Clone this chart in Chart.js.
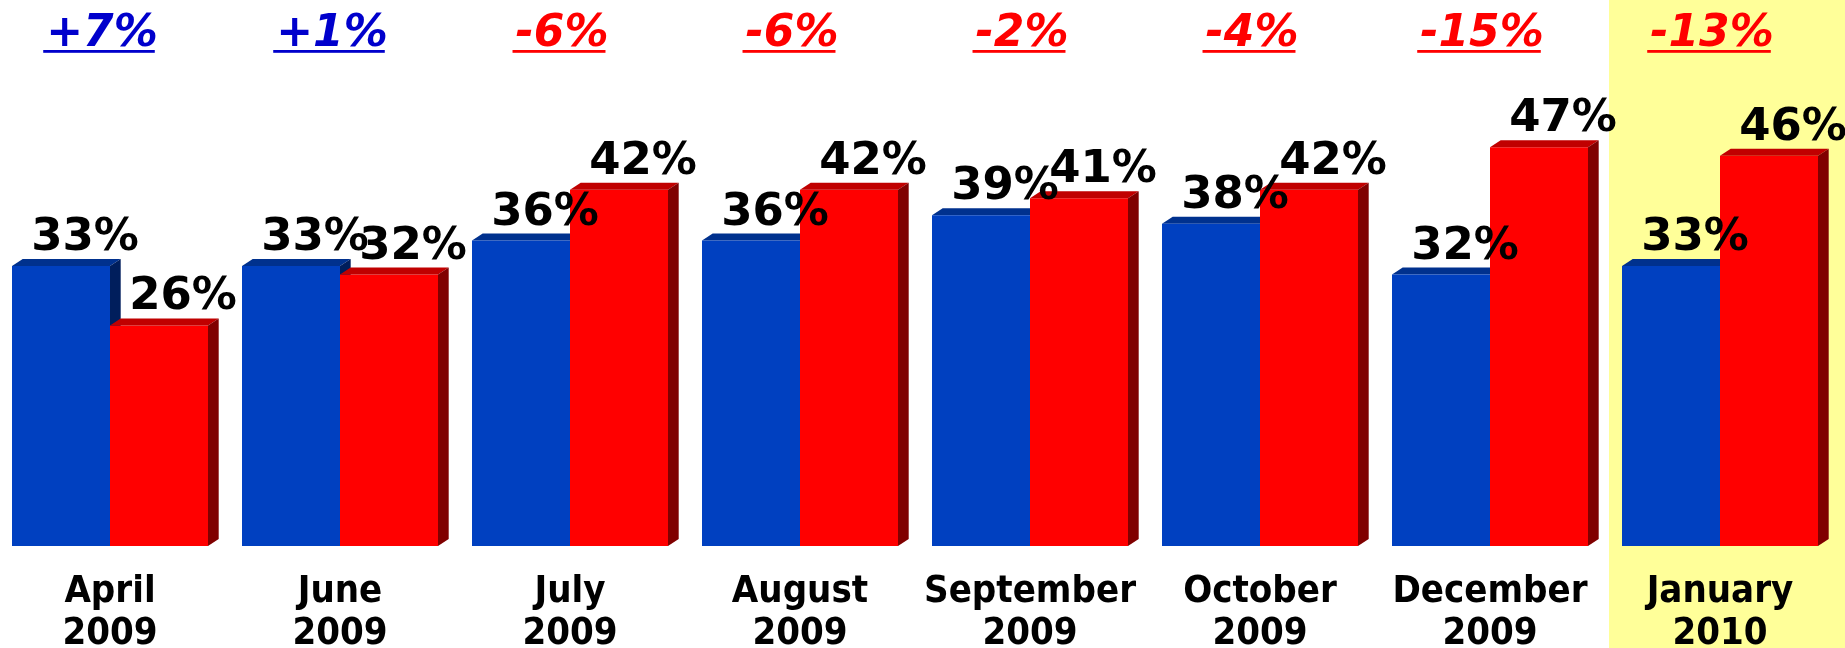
<!DOCTYPE html>
<html><head><meta charset="utf-8">
<script src="https://cdn.jsdelivr.net/npm/chart.js@4/dist/chart.umd.min.js"></script>
<style>
html,body{margin:0;padding:0;background:#fff;overflow:hidden;width:1845px;height:648px}
#wrap{position:absolute;left:-5px;top:0;width:1850px;height:648px}
</style></head><body>
<div id="wrap"><canvas id="c" width="1850" height="648"></canvas></div>
<script>
const categories = [["April","2009"],["June","2009"],["July","2009"],["August","2009"],["September","2009"],["October","2009"],["December","2009"],["January","2010"]];
const blueValues = [33,33,36,36,39,38,32,33];
const redValues = [26,32,42,42,41,42,47,46];
const changeLabels = ["+7%","+1%","-6%","-6%","-2%","-4%","-15%","-13%"];
const highlightIndex = 7;

const faceColors = [
  {top:'#00318E', side:'#001E5C'},
  {top:'#C00000', side:'#800000'}
];
const DX = 10.7, DY = 7;

function drawFaces(chart, di){
  const ctx = chart.ctx, meta = chart.getDatasetMeta(di), c = faceColors[di];
  ctx.save();
  meta.data.forEach(b=>{
    const p = b.getProps(['x','y','base','width'], true);
    const l = p.x - p.width/2, r = p.x + p.width/2;
    ctx.fillStyle = c.top;
    ctx.beginPath();
    ctx.moveTo(l,p.y); ctx.lineTo(l+DX,p.y-DY); ctx.lineTo(r+DX,p.y-DY); ctx.lineTo(r,p.y);
    ctx.closePath(); ctx.fill();
    ctx.fillStyle = c.side;
    ctx.beginPath();
    ctx.moveTo(r,p.y); ctx.lineTo(r+DX,p.y-DY); ctx.lineTo(r+DX,p.base-DY); ctx.lineTo(r,p.base);
    ctx.closePath(); ctx.fill();
  });
  ctx.restore();
}

const backgroundPlugin = {
  id:'bg',
  beforeDraw(chart){
    const ctx = chart.ctx, xs = chart.scales.x;
    ctx.save();
    ctx.fillStyle = '#FFFFFF';
    ctx.fillRect(0,0,chart.width,chart.height);
    const left = (xs.getPixelForValue(highlightIndex-1)+xs.getPixelForValue(highlightIndex))/2 + 4;
    ctx.fillStyle = '#FFFF99';
    ctx.fillRect(left,0,chart.width-left,chart.height);
    ctx.restore();
  }
};

const bar3dPlugin = {
  id:'bar3d',
  beforeDatasetsDraw(chart){ drawFaces(chart, 0); },
  afterDatasetDraw(chart, args){ if (args.index === 1) drawFaces(chart, 1); }
};

const labelPlugin = {
  id:'vlabels',
  afterDatasetsDraw(chart){
    const ctx = chart.ctx;
    ctx.save();
    ctx.font = 'bold 45px "DejaVu Sans"';
    ctx.fillStyle = '#000';
    ctx.textAlign = 'center';
    ctx.textBaseline = 'alphabetic';
    [0,1].forEach(di=>{
      const meta = chart.getDatasetMeta(di);
      meta.data.forEach((b,i)=>{
        const v = chart.data.datasets[di].data[i];
        ctx.fillText(v+'%', b.x+24, b.y-16);
      });
    });
    const xs = chart.scales.x;
    ctx.font = 'italic bold 44px "DejaVu Sans"';
    changeLabels.forEach((t,i)=>{
      const x = xs.getPixelForValue(i) - 8;
      const col = t.charAt(0)==='+' ? '#0000CC' : '#FF0000';
      ctx.fillStyle = col;
      ctx.fillText(t, x, 46);
      const w = ctx.measureText(t).width;
      ctx.fillRect(x-w/2-3, 50, w, 2.8);
    });
    ctx.restore();
  }
};

new Chart(document.getElementById('c'), {
  type:'bar',
  data:{
    labels: categories,
    datasets:[
      {data: blueValues, backgroundColor:'#0040C0', borderWidth:0},
      {data: redValues, backgroundColor:'#FF0000', borderWidth:0}
    ]
  },
  options:{
    responsive:false,
    animation:false,
    devicePixelRatio:1,
    layout:{padding:{top:37,right:10,left:0,bottom:0}},
    datasets:{bar:{categoryPercentage:196/230, barPercentage:1}},
    plugins:{legend:{display:false}, tooltip:{enabled:false}},
    scales:{
      x:{
        grid:{display:false, drawTicks:false},
        border:{display:false},
        ticks:{
          color:'#000',
          padding:25,
          maxRotation:0,
          autoSkip:false,
          font:{family:"'DejaVu Sans Condensed','Liberation Sans Narrow','DejaVu Sans'", weight:'bold', size:38, lineHeight:1.1}
        },
        afterFit(s){ s.height = 102; }
      },
      y:{display:false, min:0, max:60}
    }
  },
  plugins:[backgroundPlugin, bar3dPlugin, labelPlugin]
});
</script>
</body></html>
